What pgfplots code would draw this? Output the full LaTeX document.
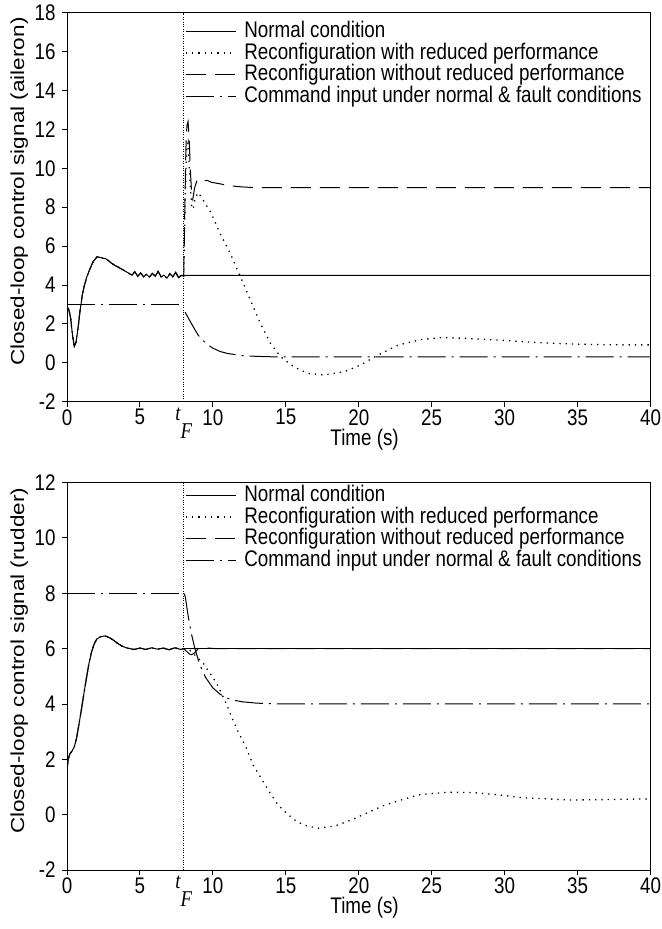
\documentclass[border=0pt]{standalone}
\usepackage{fontspec}
\setmainfont{Liberation Sans}
\newfontfamily\serifit{Liberation Serif}
\usepackage{pgfplots}
\pgfplotsset{compat=1.18}

\pgfplotstableread{
t v
0 2.87
0.12 2.75
0.25 2.3
0.38 1.4
0.5 0.85
0.62 1.05
0.76 1.8
0.9 2.7
1.05 3.5
1.2 4.0
1.35 4.4
1.56 4.8
1.79 5.2
2.06 5.45
2.25 5.42
2.45 5.38
2.65 5.35
2.85 5.25
3.05 5.12
3.3 5.0
3.6 4.88
3.9 4.75
4.2 4.62
4.45 4.5
4.65 4.68
4.85 4.45
5.05 4.62
5.25 4.42
5.45 4.55
5.65 4.4
5.85 4.6
6.05 4.45
6.25 4.7
6.45 4.42
6.65 4.5
6.85 4.35
7.05 4.58
7.25 4.42
7.45 4.65
7.65 4.38
7.85 4.5
8.0 4.45
}\preA

\pgfplotstableread{
t v
0 1.6
0.08 2.0
0.2 2.2
0.35 2.3
0.5 2.45
0.65 2.75
0.8 3.2
1.0 3.84
1.15 4.35
1.35 4.99
1.5 5.45
1.69 5.89
1.85 6.15
2.03 6.34
2.3 6.43
2.6 6.46
2.9 6.4
3.17 6.31
3.45 6.2
3.74 6.1
4.0 6.04
4.3 6.0
4.6 5.97
5.0 6.02
5.4 5.97
5.8 6.03
6.2 5.98
6.6 6.02
7.0 5.96
7.4 6.03
7.8 5.97
8.0 6.0
}\preR

\pgfplotsset{
  normalline/.style={black, line width=1bp},
  reducedline/.style={black, line width=1.3bp, dash pattern=on 1.3bp off 5bp},
  withoutline/.style={black, line width=1bp, dash pattern=on 20bp off 9bp},
  cmdline/.style={black, line width=1bp, dash pattern=on 28bp off 6bp on 2bp off 6bp},
  faultline/.style={black, line width=0.8bp, dash pattern=on 0.8bp off 1.6bp},
  mystyle/.style={
    scale only axis, width=583.5bp,
    xmin=0, xmax=40,
    xtick={0,5,...,40},
    tick align=outside, tick pos=left,
    major tick length=5bp,
    every tick/.style={black, line width=0.9bp},
    axis line style={line width=0.9bp},
    /pgf/number format/assume math mode=true,
    tick label style={yscale=1.2},
    xticklabel style={inner sep=2bp},
    xlabel={Time (s)},
    xlabel style={at={(axis description cs:0.51,-0.098)}, anchor=center, inner sep=0bp, yscale=1.2},
    ylabel style={at={(axis description cs:-0.082,0.54)}, anchor=center, xscale=1.2},
    extra x ticks={8},
    extra x tick labels={\vphantom{0}{\serifit\itshape t}\raisebox{-0.8em}{\serifit\itshape F}},
    extra x tick style={major tick length=0pt},
    legend style={draw=none, fill=none, anchor=north west, inner sep=0pt,
      row sep=0pt, column sep=8bp,
      nodes={inner sep=0bp, text height=14bp, text depth=4bp, yscale=1.2}},
    legend cell align=left,
    legend image code/.code={\draw[##1] (0bp,0bp) -- (50bp,0bp);},
  }
}

\begin{document}
\fontsize{18.8bp}{22bp}\selectfont
\begin{tikzpicture}
\path[use as bounding box] (0bp,0bp) rectangle (662bp,929bp);

\begin{axis}[mystyle, height=389bp, at={(67bp,527.3bp)}, anchor=south west,
  ymin=-2, ymax=18, ytick={-2,0,...,18},
  ylabel={Closed-loop control signal (aileron)},
  legend style={at={(axis description cs:0.202,0.98)}}]
\addplot[faultline, forget plot] coordinates {(8,-2) (8,18)};
\addplot[normalline] table[x=t,y=v] {\preA};
\addlegendentry{Normal condition}
\addplot[reducedline] table[x=t,y=v] {\preA};
\addlegendentry{Reconfiguration with reduced performance}
\addplot[withoutline] table[x=t,y=v] {\preA};
\addlegendentry{Reconfiguration without reduced performance}
\addplot[cmdline] coordinates {(0,3) (8,3)};
\addlegendentry{Command input under normal \& fault conditions}
% post-fault
\addplot[normalline, forget plot] coordinates {(8,4.45) (8.1,4.5) (40,4.5)};
\addplot[reducedline, forget plot] coordinates {
(8.0,4.45) (8.1,8.5) (8.2,11.0) (8.3,11.3) (8.42,9.5) (8.55,8.0) (8.65,7.9)
(8.8,8.5) (9.0,8.75) (9.3,8.4) (9.85,7.74) (10.5,6.64) (11.2,5.61) (11.9,4.41)
(12.58,3.21) (13.26,2.02) (13.95,1.0) (14.64,0.31) (15.55,-0.21) (16.5,-0.54)
(17.6,-0.63) (19.0,-0.46) (20.1,-0.12) (21.3,0.39) (22.7,0.91) (24.3,1.2)
(25.8,1.3) (27.5,1.25) (29.8,1.16) (32,1.05) (34,0.98) (36,0.94) (38,0.92) (40,0.92)};
\addplot[withoutline, forget plot] coordinates {
(8.0,4.45) (8.08,8.0) (8.15,11.0) (8.22,12.2) (8.3,12.4) (8.38,11.5) (8.45,10.0)
(8.55,8.6) (8.62,8.4) (8.75,9.0) (8.9,9.35) (9.05,9.45) (9.3,9.35) (9.6,9.38)
(9.9,9.28) (10.5,9.2) (11,9.12) (11.7,9.06) (12.5,9.02) (14,9.0) (40,9.0)};
\addplot[cmdline, forget plot] coordinates {
(8.1,2.6) (8.5,2.05) (9.0,1.41) (9.5,1.01) (10.0,0.75) (10.5,0.58) (11,0.48)
(12,0.37) (13,0.33) (14,0.31) (15,0.3) (40,0.3)};
\end{axis}

\begin{axis}[mystyle, height=387.4bp, at={(67bp,59bp)}, anchor=south west,
  ymin=-2, ymax=12, ytick={-2,0,...,12},
  ylabel={Closed-loop control signal (rudder)},
  legend style={at={(axis description cs:0.202,0.995)}}]
\addplot[faultline, forget plot] coordinates {(8,-2) (8,12)};
\addplot[normalline] table[x=t,y=v] {\preR};
\addlegendentry{Normal condition}
\addplot[reducedline] table[x=t,y=v] {\preR};
\addlegendentry{Reconfiguration with reduced performance}
\addplot[withoutline] table[x=t,y=v] {\preR};
\addlegendentry{Reconfiguration without reduced performance}
\addplot[cmdline] coordinates {(0,8) (8,8)};
\addlegendentry{Command input under normal \& fault conditions}
% post-fault
\addplot[normalline, forget plot] coordinates {(8,6.0) (40,6.0)};
\addplot[reducedline, forget plot] coordinates {
(8.0,6.0) (8.4,5.95) (8.7,5.8) (9.0,5.65) (9.34,5.47) (9.8,5.11) (10.25,4.75)
(10.7,4.26) (11.05,3.84) (11.28,3.54) (11.73,3.0) (12.3,2.4) (12.76,1.79) (13.1,1.5)
(13.79,0.89) (14.47,0.35) (15.05,0.05) (15.6,-0.19) (16.2,-0.37) (17.2,-0.49)
(18.36,-0.41) (19.5,-0.19) (20.6,0.07) (21.8,0.35) (22.9,0.53) (24.06,0.71)
(25.1,0.77) (26.2,0.81) (27.8,0.8) (29.7,0.71) (31.3,0.61) (32.9,0.57) (34.5,0.53)
(36.3,0.54) (40,0.57)};
\addplot[withoutline, forget plot] coordinates {
(8.0,6.0) (8.2,5.9) (8.4,5.8) (8.55,5.78) (8.75,5.85) (9.0,6.0) (9.3,6.05)
(9.7,6.02) (10.2,6.0) (40,6.0)};
\addplot[cmdline, forget plot] coordinates {
(8.0,8.0) (8.1,7.9) (8.3,7.2) (8.5,6.6) (8.75,6.04) (9.0,5.59) (9.25,5.24)
(9.5,4.96) (10,4.58) (10.5,4.35) (11,4.21) (11.5,4.13) (12,4.08) (13,4.03)
(14,4.01) (15,4.0) (40,4.0)};
\end{axis}
\end{tikzpicture}
\end{document}
